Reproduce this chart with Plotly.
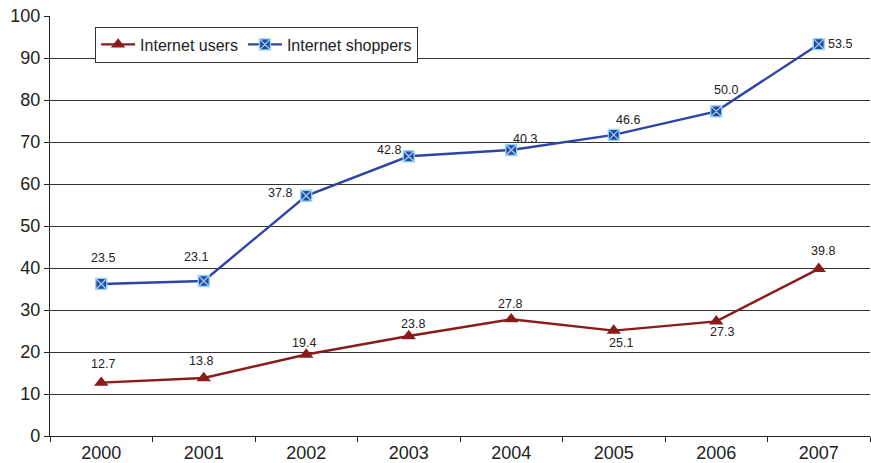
import numpy as np
import plotly.graph_objects as go

# Values per year; shoppers are plotted stacked on top of users
years = ["2000", "2001", "2002", "2003", "2004", "2005", "2006", "2007"]
internet_users = [12.7, 13.8, 19.4, 23.8, 27.8, 25.1, 27.3, 39.8]
internet_shoppers = [23.5, 23.1, 37.8, 42.8, 40.3, 46.6, 50.0, 53.5]
y_ticks = [0, 10, 20, 30, 40, 50, 60, 70, 80, 90, 100]

stacked_shoppers = np.add(internet_users, internet_shoppers)

RED = "#8B1B1B"
BLUE = "#2F45A6"
FONT = "Arial, Liberation Sans, sans-serif"

# Label offsets in pixels (dx, dy up) so labels clear the lines
users_offsets = [(2, 19), (-3, 17), (-2, 12), (4, 12), (-1, 15), (7, -12), (6, -11), (4, 18)]
shoppers_offsets = [(2, 26), (-8, 24), (-26, 3), (-20, 6), (14, 11), (14, 15), (10, 21), (21, 0)]

fig = go.Figure()
fig.add_trace(go.Scatter(
    x=years, y=internet_users, name="Internet users",
    mode="lines+markers",
    line=dict(color=RED, width=2.4),
    marker=dict(symbol="triangle-up", size=12.5, color=RED),
))
fig.add_trace(go.Scatter(
    x=years, y=stacked_shoppers, name="Internet shoppers",
    mode="lines+markers",
    line=dict(color=BLUE, width=2.4),
    marker=dict(symbol="square-x", size=11, color=BLUE,
                line=dict(color="#8FD6F2", width=1.3)),
))

# Value labels; x given as category index so year strings aren't read as numbers
annotations = []
for i, (v, (dx, dy)) in enumerate(zip(internet_users, users_offsets)):
    annotations.append(dict(x=i, y=float(v), text=f"{v:.1f}", showarrow=False,
                            xshift=dx, yshift=dy,
                            font=dict(family=FONT, size=12.5, color="#222")))
for i, (v, top, (dx, dy)) in enumerate(zip(internet_shoppers, stacked_shoppers, shoppers_offsets)):
    annotations.append(dict(x=i, y=float(top), text=f"{v:.1f}", showarrow=False,
                            xshift=dx, yshift=dy,
                            font=dict(family=FONT, size=12.5, color="#222")))

fig.update_layout(
    width=871, height=463,
    margin=dict(l=50, r=1, t=16, b=27),
    paper_bgcolor="white", plot_bgcolor="white",
    font=dict(family=FONT, color="#222"),
    showlegend=True,
    legend=dict(
        orientation="h", x=0.055, y=0.975, xanchor="left", yanchor="top",
        bgcolor="white", bordercolor="#333", borderwidth=1,
        font=dict(family=FONT, size=16, color="#222"),
        itemwidth=34, tracegroupgap=0,
    ),
    annotations=annotations,
    xaxis=dict(
        type="category", range=[-0.5, 7.5],
        showgrid=False, showline=True, linecolor="#222", linewidth=1.2,
        ticks="outside", tickson="boundaries", ticklen=5, tickcolor="#222",
        tickfont=dict(family=FONT, size=18, color="#222"),
    ),
    yaxis=dict(
        range=[0, 100], tickvals=y_ticks,
        showgrid=True, gridcolor="#333", gridwidth=1,
        showline=True, linecolor="#222", linewidth=1.2,
        ticks="outside", ticklen=5, tickcolor="#222",
        tickfont=dict(family=FONT, size=18, color="#222"),
        zeroline=False,
    ),
)

fig.write_html("out.html")
